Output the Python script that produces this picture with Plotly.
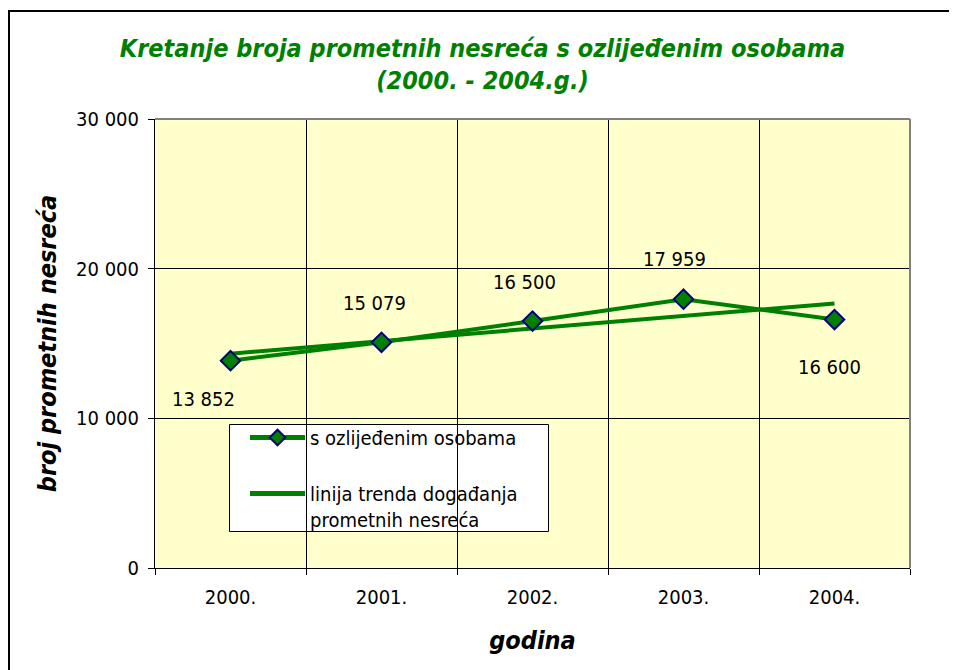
import numpy as np
import plotly.graph_objects as go

years = ["2000.", "2001.", "2002.", "2003.", "2004."]
injured = [13852, 15079, 16500, 17959, 16600]
series_name = "s ozlijeđenim osobama"
trend_name = "linija trenda događanja<br>prometnih nesreća"
title_lines = ["Kretanje broja prometnih nesreća s ozlijeđenim osobama", "(2000. - 2004.g.)"]
x_title = "godina"
y_title = "broj prometnih nesreća"
y_ticks = [0, 10000, 20000, 30000]

# label offsets (pixels) relative to each point
label_dx = [-27, -7, -8, -9, -5]
label_dy = [-38, 39, 39, 40, -47]

# linear trend line derived from the data
xi = np.arange(len(injured))
slope, intercept = np.polyfit(xi, injured, 1)
trend = list(intercept + slope * xi)

FONT = "DejaVu Sans Condensed, DejaVu Sans, sans-serif"
GREEN = "#008000"

# page body has an 8px margin; figure coords = screen coords - 8
OFF = 8
W, H = 957 - OFF, 670 - OFF
L, R, T, B = 155 - OFF, 910 - OFF, 119 - OFF, 568 - OFF


def px(xs):
    return (xs - OFF - L) / (R - L)


def py(ys):
    return (B - (ys - OFF)) / (B - T)


fig = go.Figure()
fig.add_trace(go.Scatter(
    x=years, y=trend, name=trend_name, mode="lines",
    line=dict(color=GREEN, width=4),
    legendgroup="b", legendrank=2,
))
fig.add_trace(go.Scatter(
    x=years, y=injured, name=series_name, mode="lines+markers",
    line=dict(color=GREEN, width=4),
    marker=dict(symbol="diamond", size=15, color=GREEN,
                line=dict(color="#000080", width=2)),
    legendgroup="a", legendrank=1,
))

for i, v in enumerate(injured):
    fig.add_annotation(
        x=i, y=v, xref="x", yref="y",
        text=f"{v:,}".replace(",", " "), showarrow=False,
        xshift=label_dx[i], yshift=label_dy[i],
        font=dict(family=FONT, size=20, color="#000000"),
    )

shapes = [
    # outer chart border
    dict(type="rect", xref="paper", yref="paper",
         x0=px(9), x1=px(975), y0=py(11), y1=py(690),
         line=dict(color="#000000", width=2), fillcolor="rgba(0,0,0,0)", layer="below"),
    # legend box
    dict(type="rect", xref="paper", yref="paper",
         x0=px(229.5), x1=px(548.5), y0=py(531.5), y1=py(424.5),
         line=dict(color="#000000", width=1), fillcolor="#FFFFFF", layer="between"),
    # plot area border (top and right, grey)
    dict(type="line", xref="paper", yref="paper", x0=0, x1=1, y0=1, y1=1,
         line=dict(color="#808080", width=2), layer="above"),
    dict(type="line", xref="paper", yref="paper", x0=1, x1=1, y0=0, y1=1,
         line=dict(color="#808080", width=2), layer="above"),
]

fig.update_layout(
    width=W, height=H,
    margin=dict(l=L, r=W - R, t=T, b=H - B),
    paper_bgcolor="#FFFFFF",
    plot_bgcolor="#FFFFCC",
    separators=". ",
    font=dict(family=FONT, size=20, color="#000000"),
    title=dict(
        text="<br>".join("<b><i>" + t + "</i></b>" for t in title_lines),
        x=0.5, xref="container", xanchor="center",
        y=1 - 48.5 / H, yref="container", yanchor="middle",
        font=dict(family=FONT, size=25, color=GREEN),
    ),
    xaxis=dict(
        type="category", range=[-0.5, 4.5], tickson="boundaries",
        showgrid=True, gridcolor="#000000", gridwidth=1,
        showline=True, linecolor="#000000", linewidth=1,
        ticks="outside", ticklen=6, tickcolor="#000000",
        ticklabelstandoff=11,
        tickfont=dict(family=FONT, size=20),
        title=dict(text="<b><i>" + x_title + "</i></b>",
                   font=dict(family=FONT, size=25), standoff=23),
    ),
    yaxis=dict(
        range=[0, 30000], tickvals=y_ticks, tickformat=",d",
        showgrid=True, gridcolor="#000000", gridwidth=1,
        zeroline=False,
        showline=True, linecolor="#000000", linewidth=1,
        ticks="outside", ticklen=6, tickcolor="#000000",
        ticklabelstandoff=5,
        tickfont=dict(family=FONT, size=20),
        title=dict(text="<b><i>" + y_title + "</i></b>",
                   font=dict(family=FONT, size=25), standoff=12),
    ),
    legend=dict(
        x=px(245), y=py(418), xanchor="left", yanchor="top",
        bgcolor="rgba(0,0,0,0)", borderwidth=0,
        font=dict(family=FONT, size=20),
        itemwidth=55, valign="top", tracegroupgap=27,
        traceorder="grouped", itemsizing="constant",
    ),
    shapes=shapes,
)

fig.write_html("out.html")
